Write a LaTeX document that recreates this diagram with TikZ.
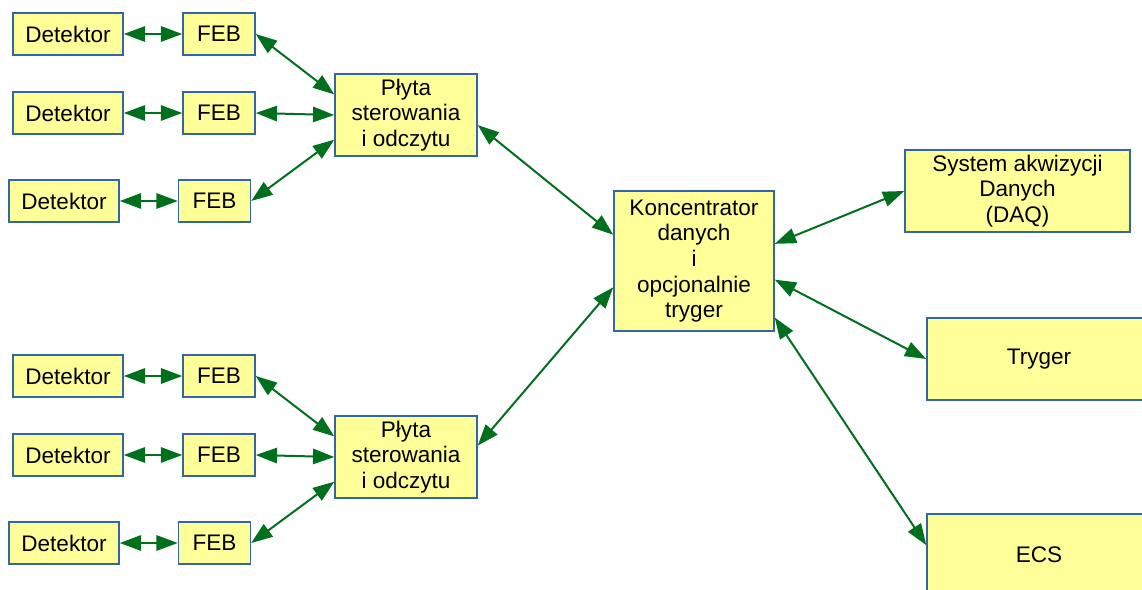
\documentclass[tikz,border=0pt]{standalone}
\usepackage{fontspec}
\setmainfont{Liberation Sans}
\usetikzlibrary{arrows.meta}
\definecolor{boxfill}{HTML}{FFFF99}
\definecolor{boxline}{HTML}{3465A4}
\definecolor{arrgreen}{HTML}{00701E}
\begin{document}
\begin{tikzpicture}[x=0.75pt,y=-0.75pt,
  box/.style={draw=boxline, fill=boxfill, line width=1.1pt, align=center,
    font=\fontsize{16.9}{19.2}\selectfont, inner sep=0pt, text=black},
  det/.style={box, minimum width=82.5pt, minimum height=31.5pt},
  feb/.style={box, minimum width=54pt, minimum height=31.5pt},
  plyta/.style={box, minimum width=106.5pt, minimum height=61.5pt},
  conn/.style={draw=arrgreen, line width=1.5pt, {Triangle[length=16pt,width=11.5pt]}-{Triangle[length=16pt,width=11.5pt]}, fill=arrgreen}
]
\useasboundingbox (0,0) rectangle (1142,589);
\begin{scope}
\clip (0,0) rectangle (1142,589);
% upper group
\node[det] (d1) at (68,34) {Detektor};
\node[feb] (f1) at (219,34) {FEB};
\node[det] (d2) at (68,113) {Detektor};
\node[feb] (f2) at (219,113) {FEB};
\node[det] (d3) at (64,201) {Detektor};
\node[feb] (f3) at (214.5,201) {FEB};
\node[plyta] (p1) at (406,115) {Płyta\\sterowania\\i odczytu};
% lower group
\node[det] (d4) at (68,376) {Detektor};
\node[feb] (f4) at (219,376) {FEB};
\node[det] (d5) at (68,455) {Detektor};
\node[feb] (f5) at (219,455) {FEB};
\node[det] (d6) at (64,543) {Detektor};
\node[feb] (f6) at (214.5,543) {FEB};
\node[plyta] (p2) at (406,457) {Płyta\\sterowania\\i odczytu};
% concentrator
\node[box, minimum width=120pt, minimum height=105pt] (k) at (694,261)
  {Koncentrator\\danych\\i\\opcjonalnie\\tryger};
% right side
\node[box, minimum width=168.75pt, minimum height=61.5pt] (daq) at (1017.5,191)
  {System akwizycji\\Danych\\(DAQ)};
\node[box, minimum width=168pt, minimum height=61.5pt] (tr) at (1039,359) {Tryger};
\node[box, minimum width=168pt, minimum height=61.5pt] (ecs) at (1039,555) {ECS};
% connectors
\draw[conn] (d1.east) -- (f1.west);
\draw[conn] (d2.east) -- (f2.west);
\draw[conn] (d3.east) -- (f3.west);
\draw[conn] (d4.east) -- (f4.west);
\draw[conn] (d5.east) -- (f5.west);
\draw[conn] (d6.east) -- (f6.west);
\draw[conn] (f1.east) -- (p1.164);
\draw[conn] (f2.east) -- (p1.west);
\draw[conn] (f3.east) -- (p1.199);
\draw[conn] (f4.east) -- (p2.164);
\draw[conn] (f5.east) -- (p2.west);
\draw[conn] (f6.east) -- (p2.199);
\draw[conn] (p1.-8) -- (k.162);
\draw[conn] (p2.9.6) -- (k.198.6);
\draw[conn] (k.12) -- (daq.west);
\draw[conn] (k.-13) -- (tr.west);
\draw[conn] (k.-35.5) -- (ecs.175);
\end{scope}
\end{tikzpicture}
\end{document}
